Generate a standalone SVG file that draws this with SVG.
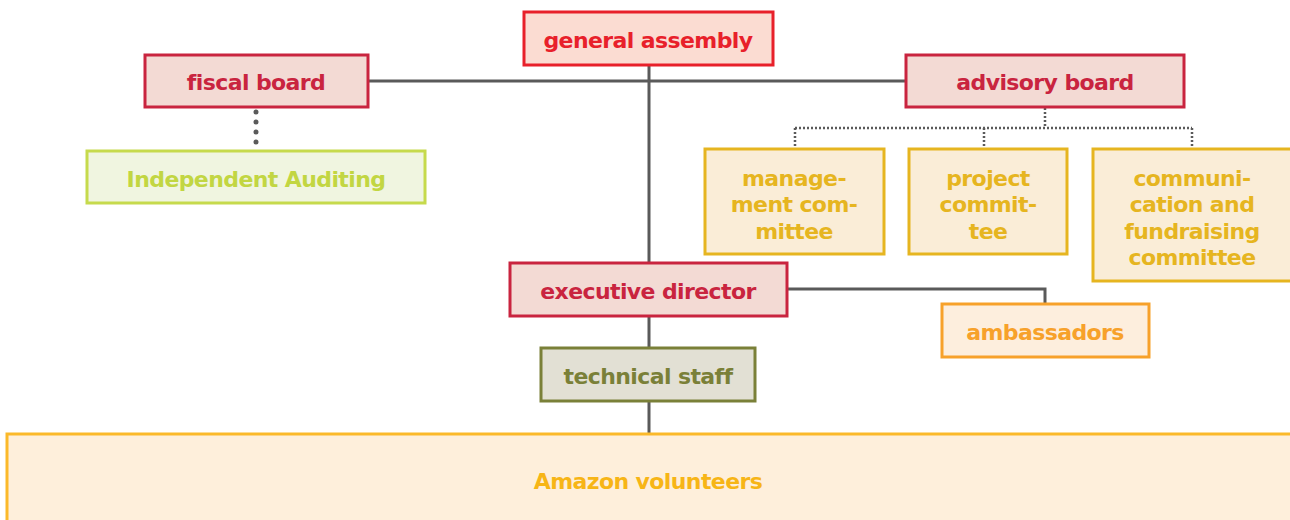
<svg xmlns="http://www.w3.org/2000/svg" width="1290" height="520" viewBox="0 0 1290 520">
<style>
text{font-family:"DejaVu Sans","Open Sans",sans-serif;font-weight:bold;font-size:22px;text-anchor:middle;letter-spacing:-0.6px}
.red rect{fill:#fbdcd2;stroke:#e8202a;stroke-width:3}
.red text{fill:#e8202a}
.crim rect{fill:#f3dad4;stroke:#c9243f;stroke-width:3}
.crim text{fill:#c9243f}
.grn rect{fill:#f0f5e0;stroke:#c6da4c;stroke-width:3}
.grn text{fill:#c2d642}
.yel rect{fill:#faedd7;stroke:#e6b520;stroke-width:3}
.yel text{fill:#e6b520}
.org rect{fill:#fdeedd;stroke:#f7a12a;stroke-width:3}
.org text{fill:#f7a12a}
.olv rect{fill:#e2e0d4;stroke:#7a8038;stroke-width:3}
.olv text{fill:#7a8038}
.vol rect{fill:#feefdb;stroke:#fbb92a;stroke-width:3}
.vol text{fill:#f7b516}
.ln{fill:none;stroke:#5a5a5a;stroke-width:3}
.dotb{fill:none;stroke:#5a5a5a;stroke-width:5;stroke-linecap:round;stroke-dasharray:0 10}
.dots{fill:none;stroke:#5a5a5a;stroke-width:2.5;stroke-dasharray:2 2}
</style>
<g id="connectors">
<path class="ln" d="M368 81H906M649 65V263M649 316V348M649 401V434M787 289H1045V304"/>
<path class="dotb" d="M256 112V147"/>
<path class="dots" d="M1045 108V128M795 128H1192M795 128V148M984 128V148M1192 128V148"/>
</g>
<g id="general-assembly" class="red"><rect x="524" y="12" width="249" height="53"/><text x="648" y="48">general assembly</text></g>
<g id="fiscal-board" class="crim"><rect x="145" y="55" width="223" height="52"/><text x="256" y="90">fiscal board</text></g>
<g id="advisory-board" class="crim"><rect x="906" y="55" width="278" height="52"/><text x="1045" y="90">advisory board</text></g>
<g id="independent-auditing" class="grn"><rect x="87" y="151" width="338" height="52"/><text x="256" y="187">Independent Auditing</text></g>
<g id="management-committee" class="yel"><rect x="705" y="149" width="179" height="105"/><text x="794" y="186">manage-</text><text x="794" y="212">ment com-</text><text x="794" y="239">mittee</text></g>
<g id="project-committee" class="yel"><rect x="909" y="149" width="158" height="105"/><text x="988" y="186">project</text><text x="988" y="212">commit-</text><text x="988" y="239">tee</text></g>
<g id="communication-committee" class="yel"><rect x="1093" y="149" width="200" height="132"/><text x="1192" y="186">communi-</text><text x="1192" y="212">cation and</text><text x="1192" y="239">fundraising</text><text x="1192" y="265">committee</text></g>
<g id="executive-director" class="crim"><rect x="510" y="263" width="277" height="53"/><text x="648" y="299">executive director</text></g>
<g id="ambassadors" class="org"><rect x="942" y="304" width="207" height="53"/><text x="1045" y="340">ambassadors</text></g>
<g id="technical-staff" class="olv"><rect x="541" y="348" width="214" height="53"/><text x="648" y="384">technical staff</text></g>
<g id="amazon-volunteers" class="vol"><rect x="7" y="434" width="1290" height="100"/><text x="648" y="489">Amazon volunteers</text></g>
</svg>
